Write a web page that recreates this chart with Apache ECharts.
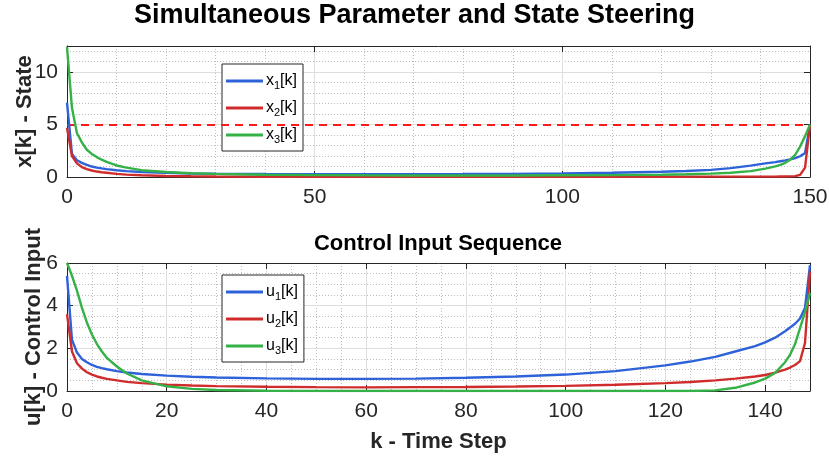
<!DOCTYPE html>
<html><head><meta charset="utf-8">
<script src="https://cdn.jsdelivr.net/npm/echarts@6/dist/echarts.min.js"></script>
<style>html,body{margin:0;padding:0;background:#fff}#c{width:829px;height:458px}</style>
</head><body><div id="c"></div>
<script>
// ---- State trajectories (top panel) ----
const kX = [0,1,2,3,4,5,6,7,8,10,12,15,20,25,30,40,50,60,70,80,90,100,110,120,125,130,134,138,141,143,144,145,146,147,148,149,150];
const x1 = [7.1,2.2,1.6,1.35,1.15,1.0,0.9,0.82,0.75,0.65,0.56,0.48,0.4,0.34,0.31,0.28,0.27,0.27,0.27,0.28,0.3,0.33,0.4,0.5,0.57,0.68,0.85,1.08,1.3,1.42,1.5,1.58,1.68,1.8,1.98,2.3,5.0];
const x2 = [4.7,2.0,1.3,0.95,0.75,0.62,0.52,0.45,0.4,0.3,0.23,0.16,0.1,0.07,0.05,0.03,0.03,0.02,0.02,0.02,0.02,0.03,0.03,0.03,0.03,0.04,0.04,0.04,0.04,0.04,0.05,0.05,0.06,0.08,0.2,0.9,5.0];
const x3 = [12.4,6.6,4.2,3.3,2.6,2.2,1.9,1.65,1.45,1.1,0.9,0.65,0.48,0.36,0.3,0.22,0.18,0.16,0.15,0.15,0.15,0.16,0.18,0.22,0.26,0.32,0.4,0.56,0.8,1.02,1.15,1.35,1.65,2.1,2.9,3.9,5.0];
const targetState = 5;

// ---- Control inputs (bottom panel) ----
const kU = [0,1,2,3,4,5,6,7,8,10,12,15,20,25,30,40,50,60,70,80,90,100,110,120,125,130,134,138,140,142,144,145,146,147,148,149];
const u1 = [5.4,2.4,1.8,1.5,1.35,1.22,1.13,1.07,1.02,0.93,0.87,0.8,0.72,0.67,0.63,0.59,0.57,0.57,0.58,0.62,0.68,0.77,0.93,1.2,1.38,1.6,1.85,2.1,2.28,2.5,2.8,2.98,3.15,3.4,3.9,5.9];
const u2 = [3.6,1.85,1.3,1.05,0.88,0.77,0.68,0.62,0.57,0.5,0.43,0.37,0.3,0.26,0.23,0.2,0.18,0.17,0.18,0.19,0.21,0.24,0.29,0.37,0.42,0.5,0.58,0.68,0.75,0.86,1.0,1.1,1.22,1.4,2.25,5.6];
const u3 = [6.0,5.4,4.7,3.9,3.2,2.65,2.2,1.85,1.55,1.15,0.82,0.5,0.22,0.1,0.05,0.01,0.0,0.0,0.0,0.0,0.0,0.0,0.0,0.0,0.0,0.03,0.15,0.4,0.58,0.85,1.35,1.7,2.2,2.95,3.7,4.6];

const xNames = ['x1[k]','x2[k]','x3[k]'];
const uNames = ['u1[k]','u2[k]','u3[k]'];
const xTicks = [0,50,100,150];
const uTicks = [0,20,40,60,80,100,120,140];

const COLORS = ['#2E62D8','#D02C2C','#35B247'];
const FONT = '"Liberation Sans", Arial, Helvetica, sans-serif';
const INK = '#262626';

const G0 = {left: 67, top: 46, width: 743, height: 131, containLabel:false, outerBoundsMode:'none'};
const G1 = {left: 67, top: 263, width: 743, height: 128, containLabel:false, outerBoundsMode:'none'};

function pairs(ks, vs){ return ks.map((k,i)=>[k, vs[i]]); }

function borderAxis(base, extra){
  return Object.assign({
    type:'value', z: 3,
    axisLine:{show:true, onZero:false, lineStyle:{color:INK, width:1}},
    axisTick:{show:true, inside:true, length:6, lineStyle:{color:INK}},
    axisLabel:{show:false},
    splitLine:{show:false}
  }, base, extra);
}
function gridAxis(base, dotted){
  return Object.assign({
    type:'value', z: dotted ? 0 : 1,
    axisLine:{show:false}, axisTick:{show:false}, axisLabel:{show:false},
    splitLine:{show:true, lineStyle: dotted ? {color:'#bdbdbd', width:1, type:[1,2]} : {color:'#dedede', width:1}}
  }, base);
}
const lblStyle = {show:true, fontSize:21, color:INK, fontFamily:FONT};
const nameStyle = {fontSize:22, fontWeight:'bold', color:INK, fontFamily:FONT};
function only(list){ return v => list.indexOf(v) >= 0 ? String(v) : ''; }

const xAxes = [
  borderAxis({gridIndex:0, min:0, max:150, interval:50, position:'bottom'},
    {axisLabel:Object.assign({}, lblStyle, {margin:10, formatter: only(xTicks)})}),
  borderAxis({gridIndex:0, min:0, max:150, interval:50, position:'top'}, {}),
  gridAxis({gridIndex:0, min:0, max:150, interval:50}, false),
  gridAxis({gridIndex:0, min:0, max:150, interval:10}, true),
  borderAxis({gridIndex:1, min:0, max:149, interval:20, position:'bottom'},
    {axisLabel:Object.assign({}, lblStyle, {margin:10, formatter: only(uTicks)}),
     name:'k - Time Step', nameLocation:'middle', nameGap:40, nameMoveOverlap:false, nameTextStyle:nameStyle}),
  borderAxis({gridIndex:1, min:0, max:149, interval:20, position:'top'}, {}),
  gridAxis({gridIndex:1, min:0, max:149, interval:20}, false),
  gridAxis({gridIndex:1, min:0, max:149, interval:5}, true)
];
const yAxes = [
  borderAxis({gridIndex:0, min:0, max:12.5, interval:5, position:'left'},
    {axisLabel:Object.assign({}, lblStyle, {margin:9, formatter: only([0,5,10])}),
     name:'x[k] - State', nameLocation:'middle', nameGap:31, nameMoveOverlap:false, nameTextStyle:nameStyle}),
  borderAxis({gridIndex:0, min:0, max:12.5, interval:5, position:'right'}, {}),
  gridAxis({gridIndex:0, min:0, max:12.5, interval:5}, false),
  gridAxis({gridIndex:0, min:0, max:12.5, interval:1}, true),
  borderAxis({gridIndex:1, min:0, max:6, interval:2, position:'left'},
    {axisLabel:Object.assign({}, lblStyle, {margin:9}),
     name:'u[k] - Control Input', nameLocation:'middle', nameGap:22, nameMoveOverlap:false, nameTextStyle:nameStyle}),
  borderAxis({gridIndex:1, min:0, max:6, interval:2, position:'right'}, {}),
  gridAxis({gridIndex:1, min:0, max:6, interval:2}, false),
  gridAxis({gridIndex:1, min:0, max:6, interval:0.5}, true)
];

function lineSeries(name, data, color, xi, yi){
  return {name, type:'line', data, xAxisIndex:xi, yAxisIndex:yi, showSymbol:false, symbol:'none',
    lineStyle:{color, width:2.4}, itemStyle:{color}, z:5, animation:false};
}
const series = [
  lineSeries(xNames[0], pairs(kX,x1), COLORS[0], 0, 0),
  lineSeries(xNames[1], pairs(kX,x2), COLORS[1], 0, 0),
  lineSeries(xNames[2], pairs(kX,x3), COLORS[2], 0, 0),
  lineSeries(uNames[0], pairs(kU,u1), COLORS[0], 4, 4),
  lineSeries(uNames[1], pairs(kU,u2), COLORS[1], 4, 4),
  lineSeries(uNames[2], pairs(kU,u3), COLORS[2], 4, 4)
];
series[0].markLine = {silent:true, symbol:'none', label:{show:false}, z:4,
  lineStyle:{color:'#FF1A1A', width:2, type:[8,6]}, data:[{yAxis:targetState}]};

function legendFmt(name){ return '{m|' + name[0] + '}{s|' + name[1] + '}{m|' + name.slice(2) + '}'; }
function makeLegend(names, top){
  return {data:names, orient:'vertical', left:222, top:top, itemWidth:37, itemHeight:3, icon:'rect',
    itemGap:9, padding:[9,6,6,4], backgroundColor:'#fff', borderColor:INK, borderWidth:1, borderRadius:0,
    formatter:legendFmt, selectedMode:false,
    textStyle:{color:'#000', fontFamily:FONT, padding:[0,0,0,-2],
      rich:{m:{fontSize:16, fontFamily:FONT, color:'#000'}, s:{fontSize:11, fontFamily:FONT, color:'#000', padding:[9,0,0,0]}}}};
}

const chart = echarts.init(document.getElementById('c'));
chart.setOption({
  animation:false,
  backgroundColor:'#fff',
  title:{text:'Simultaneous Parameter and State Steering', left:'center', top:-3,
    textStyle:{fontSize:27, fontWeight:'bold', color:'#000', fontFamily:FONT}},
  graphic:[{type:'text', x:438, y:244, style:{text:'Control Input Sequence', align:'center', verticalAlign:'middle',
    fontSize:22, fontWeight:'bold', fill:'#000', fontFamily:FONT}}],
  legend:[makeLegend(xNames, 64), makeLegend(uNames, 275)],
  grid:[G0, G1],
  xAxis:xAxes,
  yAxis:yAxes,
  series
});
</script></body></html>
